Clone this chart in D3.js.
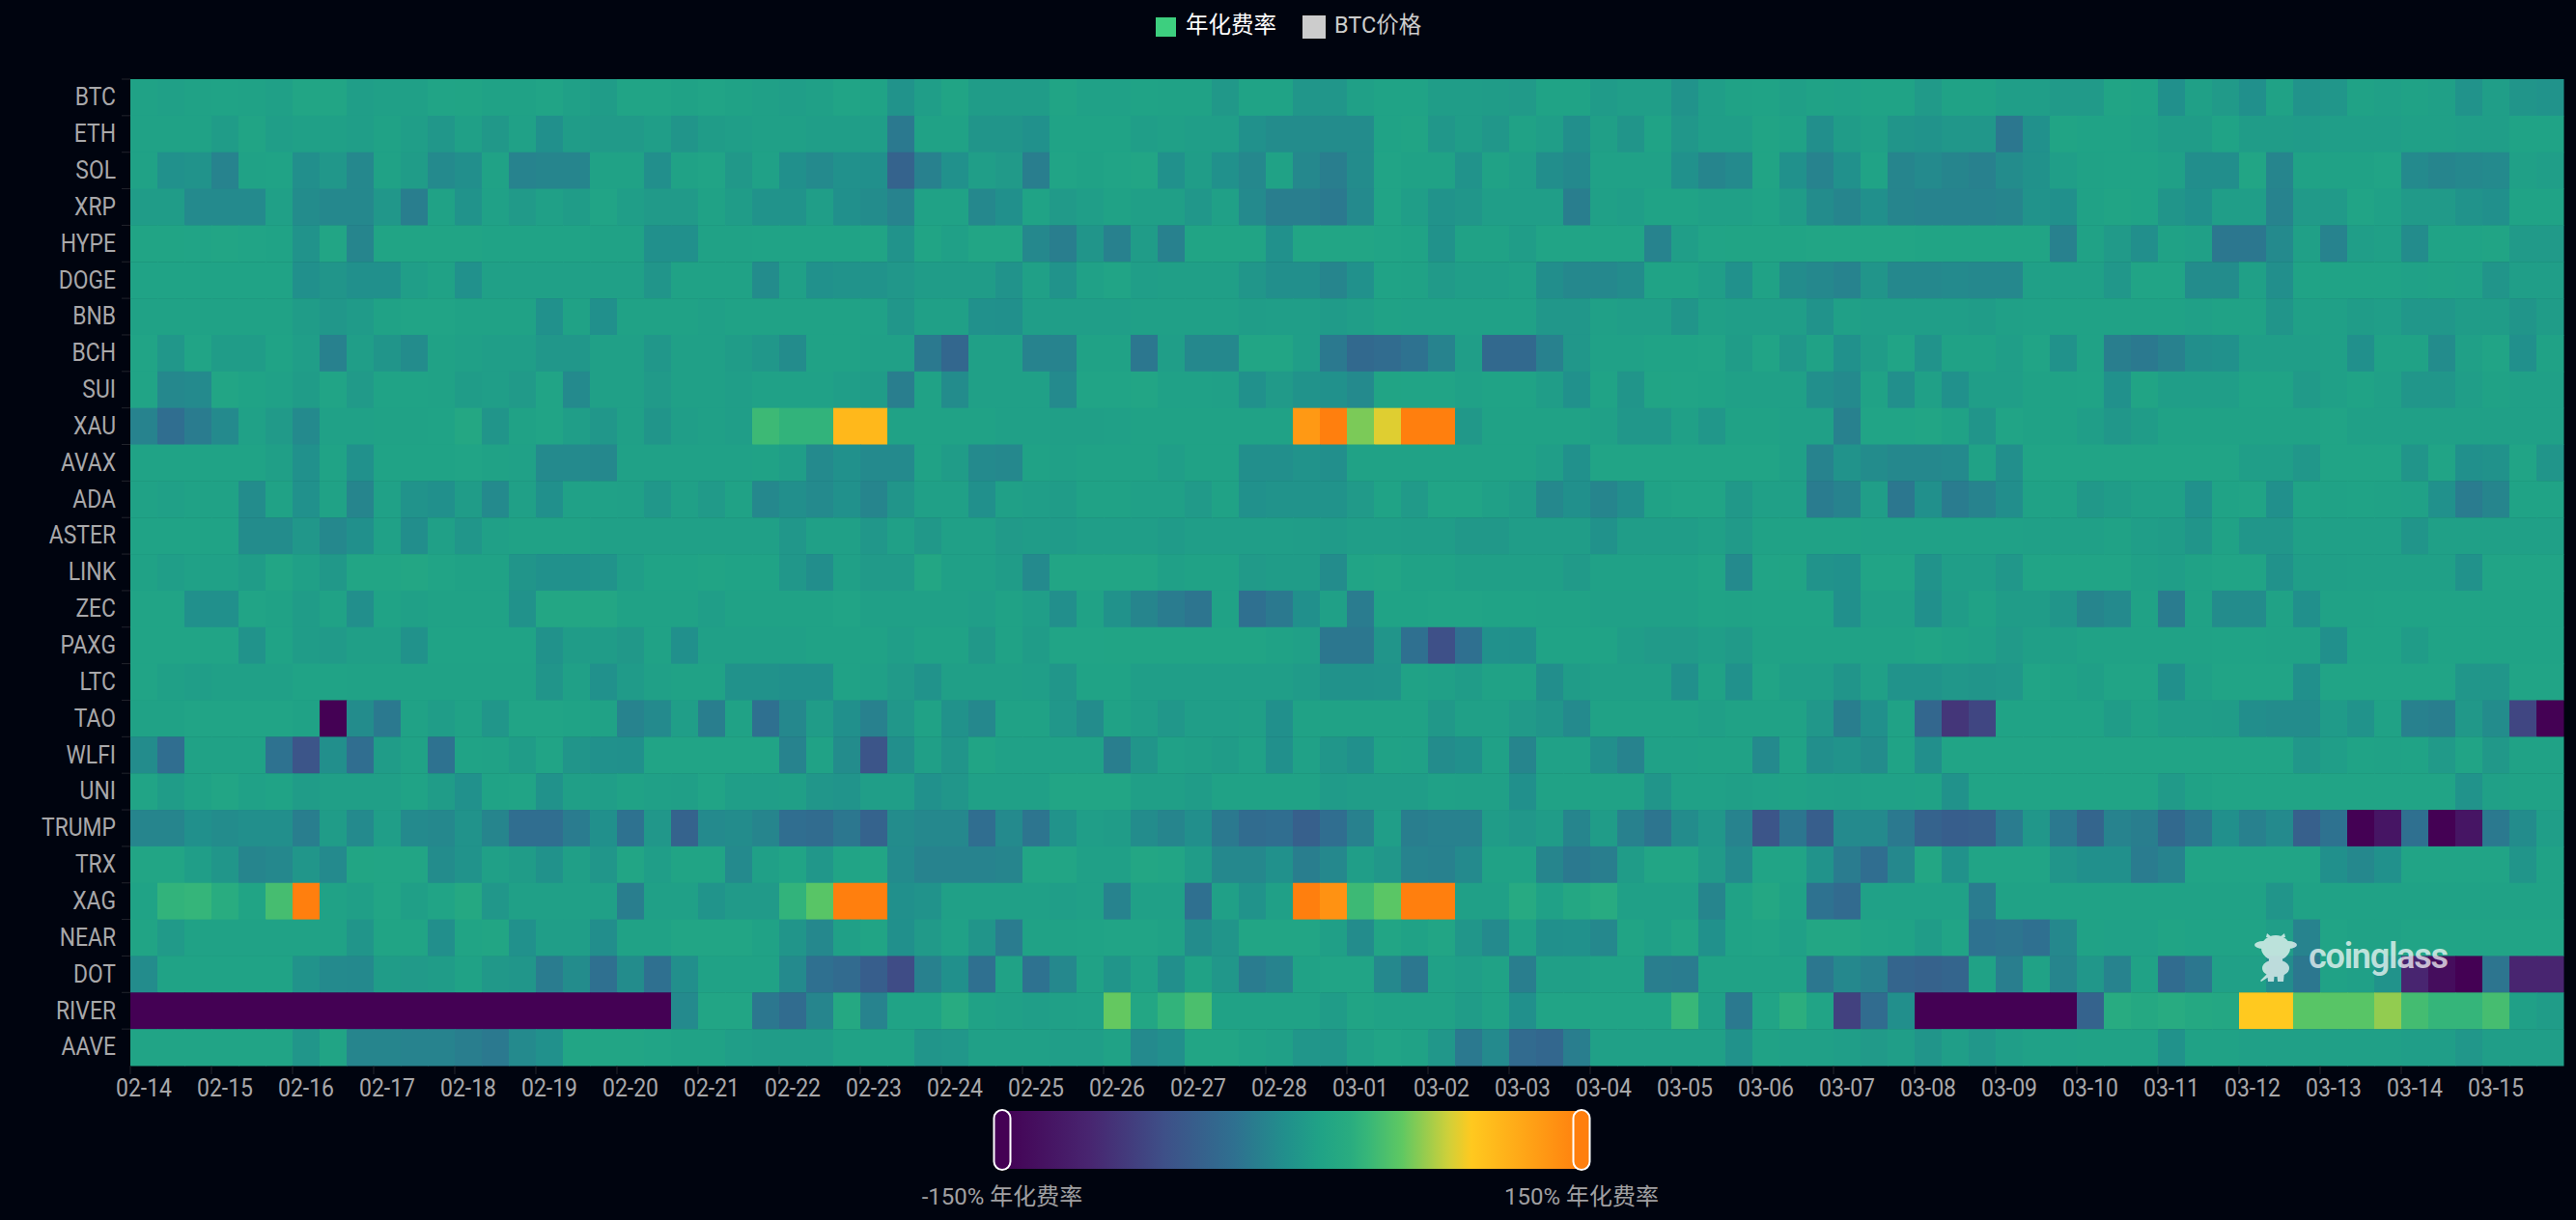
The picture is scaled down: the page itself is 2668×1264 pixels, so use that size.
<!DOCTYPE html>
<html>
<head>
<meta charset="utf-8">
<script src="https://cdn.jsdelivr.net/npm/d3@7.9.0/dist/d3.min.js"></script>
<style>
  html, body { margin: 0; background: #00040f; }
  svg { display: block; }
  text { font-family: Roboto, "Noto Sans CJK SC", sans-serif; }
</style>
</head>
<body>
<svg id="chart" width="2668" height="1264"></svg>
<script>
// annualized funding rate (%), one list per coin, 3 readings a day
const BTC = [14,12,14,15,14,12,18,18,10,12,12,16,17,14,14,16,12,8,16,16,14,16,14,12,10,12,16,15,0,10,
  17,8,8,8,17,13,13,15,14,14,5,15,15,3,3,12,15,15,9,9,8,6,15,15,7,10,10,0,10,14,
  15,11,14,13,15,15,6,14,14,10,10,6,6,17,15,-3,12,6,-3,14,0,3,14,12,14,12,0,10,2,0];
const ETH = [14,14,14,8,17,10,12,12,10,14,10,4,12,5,13,-3,8,6,6,10,2,8,10,12,12,10,10,10,-22,14,
  14,2,2,-2,15,15,15,10,12,10,10,-2,-6,-6,-6,-6,15,17,4,9,4,14,10,-4,11,2,15,4,10,10,
  17,14,-4,8,12,2,0,4,4,-24,-2,17,15,15,13,8,8,15,8,8,7,10,10,10,12,12,10,10,15,15];
const SOL = [14,-2,0,-14,14,15,-4,4,-10,14,8,-8,-4,14,-14,-12,-12,14,14,-4,14,16,5,13,-3,-8,-2,-3,-45,-16,
  -2,10,6,-18,16,14,16,18,-2,9,-2,-10,14,-10,-18,-6,16,14,14,0,14,10,-5,-9,13,13,13,-2,-12,-8,
  17,-2,-14,-2,15,-12,-8,-12,-16,-6,-1,10,14,15,15,12,-5,-5,18,-12,14,14,14,16,-8,-12,-10,-8,12,10];
const XRP = [8,8,-8,-8,-8,12,-6,-10,-10,4,-18,14,0,13,6,12,8,16,10,6,6,14,8,0,0,10,-3,-6,-14,14,
  14,-10,-3,15,6,10,14,11,11,4,12,-8,-18,-18,-22,-8,16,10,0,3,10,10,10,-18,12,10,15,15,12,12,
  15,8,-6,-12,-3,-12,-14,-14,-14,-12,0,-3,14,17,15,2,-3,10,10,-14,6,6,16,13,6,6,0,-3,15,15];
const HYPE = [17,17,16,18,16,15,0,18,-12,17,17,17,17,15,15,15,15,14,14,-3,-3,14,14,15,15,15,15,17,0,17,
  12,18,18,-10,-18,2,-16,8,-16,17,17,17,-2,18,18,18,16,15,-1,14,14,9,16,16,16,16,-14,10,16,17,
  17,17,18,18,18,18,17,17,17,17,17,-16,14,6,-4,14,12,-24,-24,-8,12,-14,10,12,-6,15,15,17,6,6];
const DOGE = [15,15,15,15,15,15,-3,2,-3,-3,10,14,-2,12,12,12,12,12,12,2,14,14,14,-6,12,-2,0,0,4,8,
  8,8,0,12,0,13,16,10,11,11,11,3,-4,-4,-12,-2,15,14,6,10,10,12,-5,-10,-10,-6,15,15,10,-2,
  14,-6,-10,-14,2,-10,-10,-8,-10,-10,12,12,12,4,16,16,-6,-6,12,-4,15,15,15,15,13,14,13,2,10,10];
const BNB = [14,14,14,14,14,14,8,4,7,14,16,16,14,14,14,-2,14,-3,14,14,14,12,14,14,14,14,14,13,3,12,
  12,-2,-3,10,10,10,10,12,12,12,12,9,10,10,7,10,14,13,13,13,13,13,4,4,12,10,10,2,12,10,
  10,10,0,12,10,10,10,10,8,12,13,14,14,14,14,14,12,14,14,2,12,12,8,10,4,4,8,8,2,8];
const BCH = [16,4,16,8,8,15,10,-16,10,2,-6,14,12,10,10,4,4,12,12,4,12,12,8,4,-6,14,14,12,12,-22,
  -40,12,12,-14,-14,14,14,-24,10,-10,-10,18,18,10,-22,-38,-35,-28,-14,10,-38,-38,-16,4,13,13,15,15,16,8,
  16,4,14,-2,8,16,0,14,14,10,16,-1,14,-18,-22,-16,-4,-2,10,10,10,12,-3,14,14,-6,12,16,-3,14];
const SUI = [16,-10,-8,18,15,13,8,16,6,15,15,14,8,10,6,16,-8,12,12,6,12,12,10,13,13,13,10,8,-18,14,
  -6,12,12,12,-8,16,16,18,13,13,12,-2,6,0,-2,-8,17,16,16,13,15,15,9,-2,15,2,17,16,15,12,
  12,12,-4,-8,14,-4,12,-2,10,10,14,14,15,-2,17,10,10,10,15,15,6,12,15,12,3,3,10,14,12,12];
const XAU = [-14,-32,-20,-8,13,6,-8,13,13,14,14,15,22,2,14,16,10,4,12,2,10,12,10,42,36,36,106,106,14,14,
  14,14,12,12,11,11,12,14,14,14,14,14,14,130,150,63,85,150,150,5,14,14,14,14,12,4,4,12,4,14,
  14,12,12,-16,16,16,18,14,2,16,14,14,10,4,8,14,14,14,14,14,14,16,12,12,12,12,12,12,12,12];
const AVAX = [15,15,15,15,15,11,-2,15,-2,15,15,15,16,14,13,-8,-8,-10,13,13,13,13,13,14,10,-8,-2,-8,-8,14,
  8,-8,-10,14,12,14,14,14,10,14,14,-4,-4,0,-4,14,14,14,14,14,14,14,10,-2,16,16,16,16,16,16,
  16,12,-14,0,-6,-10,-10,-8,14,-4,16,16,16,16,16,16,16,16,10,10,4,16,16,16,2,16,-3,-1,16,2];
const ADA = [14,12,14,14,-6,14,-2,14,-12,13,0,-3,8,-8,12,-3,13,13,12,4,12,6,14,-10,-4,-8,-2,-12,2,12,
  12,-3,12,10,8,14,14,12,12,6,14,-2,0,0,0,6,15,6,16,16,12,8,-10,-3,-12,-5,14,16,16,5,
  12,12,-20,-14,10,-24,-3,-20,-14,-5,14,14,5,8,12,12,-2,15,16,-3,15,14,15,14,13,-2,-20,-12,15,15];
const ASTER = [15,15,15,15,-6,-6,4,-10,-3,13,-5,12,3,12,14,14,14,12,12,12,12,12,12,12,4,12,12,4,12,5,
  12,12,6,8,7,10,10,10,7,10,10,10,10,9,7,10,10,9,9,5,5,9,9,9,-1,9,9,9,12,6,
  14,14,14,14,13,13,13,13,13,13,12,12,12,14,10,8,2,14,3,3,12,12,12,12,2,12,12,12,12,12];
const LINK = [14,10,13,13,8,18,12,5,18,18,20,16,14,14,2,-2,-2,0,10,15,15,17,15,15,4,-5,12,6,6,20,
  12,12,8,-8,18,18,18,18,12,14,14,6,8,8,-6,16,18,14,14,11,11,11,11,6,13,13,13,13,16,-8,
  16,17,0,-2,16,16,0,10,10,4,16,16,16,16,12,10,14,16,16,-1,10,11,12,12,12,12,-1,16,16,16];
const ZEC = [16,16,-3,-3,16,14,8,14,-4,15,12,14,14,14,-1,20,20,20,14,14,14,10,14,14,14,14,16,12,12,12,
  12,10,14,10,-4,14,-1,-12,-20,-26,14,-30,-22,-3,12,-20,15,15,16,16,15,15,14,14,12,12,12,12,15,14,
  15,15,15,-3,12,12,-3,8,14,8,8,2,-12,-8,14,-20,14,-6,-6,14,-3,14,14,15,15,15,15,15,15,15];
const PAXG = [16,16,16,16,0,15,8,6,11,11,-1,15,15,15,15,-1,8,8,5,14,-3,12,12,12,12,14,14,14,10,14,
  14,5,14,8,16,16,17,17,17,17,17,17,14,12,-24,-24,2,-30,-66,-30,-2,-3,15,15,15,9,6,6,10,6,
  14,14,14,14,14,14,17,14,12,6,11,11,14,14,14,14,14,15,15,14,14,-3,15,15,8,15,15,15,15,15];
const LTC = [16,12,10,12,12,12,15,15,14,14,14,14,14,14,14,2,12,-2,7,12,14,14,-1,-1,-3,-3,14,12,6,0,
  11,11,11,10,3,15,15,10,10,10,10,10,10,7,-1,-1,0,14,12,8,14,14,-5,8,11,11,11,-3,14,-2,
  16,10,10,2,12,0,0,4,2,4,16,14,11,16,16,-3,12,16,16,16,-3,16,16,16,16,16,3,3,16,16];
const TAO = [14,14,16,16,16,16,14,-150,-6,-22,14,9,14,3,16,16,15,14,-14,-8,10,-18,14,-30,-10,8,-3,-16,4,14,
  -1,-10,14,14,4,-6,14,10,4,10,10,11,-3,14,14,14,14,14,5,12,12,6,2,-8,14,14,14,14,11,14,
  14,14,4,-18,-3,14,-40,-90,-75,15,15,15,15,8,14,9,9,8,-5,-6,-6,7,0,14,-16,-18,5,-6,-75,-150];
const WLFI = [-6,-32,14,14,14,-28,-60,-4,-32,8,14,-28,15,14,8,16,2,-2,-3,16,16,16,16,16,-14,14,-6,-60,-4,11,
  2,17,13,13,13,13,-18,2,13,11,8,13,-3,13,3,-3,14,13,-6,-3,13,-12,13,13,-4,-14,13,13,14,14,
  -8,15,-4,0,-6,15,-4,16,16,16,16,16,16,16,16,16,16,16,16,16,4,10,15,14,15,6,16,5,14,14];
const UNI = [16,8,14,18,13,15,8,11,11,11,15,8,-2,15,16,-1,11,10,14,12,11,16,10,10,11,3,1,10,10,-2,
  3,12,12,12,18,18,18,11,11,8,14,14,14,14,7,9,9,9,13,12,12,-3,14,14,14,14,2,13,13,11,
  13,14,12,11,13,13,14,-1,16,16,16,16,16,16,16,6,14,16,16,16,16,16,16,16,16,16,0,12,14,14];
const TRUMP = [-12,-12,-3,-6,-4,-4,-18,8,-8,10,-8,-10,0,-12,-32,-32,-20,-3,-28,4,-45,-8,-6,-12,-32,-34,-24,-45,-6,-10,
  -10,-32,-8,-26,0,10,8,-6,-12,-4,-22,-34,-32,-48,-32,-16,10,-18,-16,-16,8,4,8,-12,8,-16,-26,-6,4,-14,
  -60,-25,-50,-8,-8,-22,-45,-50,-48,-20,4,-22,-42,-14,-18,-38,-24,-3,-16,-8,-48,-28,-150,-125,-30,-150,-125,-22,-6,10];
const TRX = [18,18,10,3,-12,-10,3,-8,19,18,18,-6,0,12,8,-1,11,3,18,10,17,17,-8,12,16,4,16,18,-7,-14,
  -14,-14,-12,18,18,12,12,20,18,8,-10,-10,-2,-18,-10,10,4,-14,-16,-8,14,14,-12,-22,-18,8,18,18,6,-8,
  16,16,0,-20,-32,-10,20,-1,16,16,16,2,-3,-3,-20,-14,16,16,16,16,16,-3,-10,-2,16,16,16,16,2,14];
const XAG = [15,36,38,30,17,46,150,14,11,18,11,16,24,4,12,12,12,12,-18,12,12,1,6,6,36,54,150,150,-3,0,
  12,12,12,12,10,12,-14,12,12,-30,12,0,12,150,135,42,55,150,150,12,12,26,13,22,28,12,12,12,-12,14,
  22,14,-28,-36,13,13,13,13,-20,14,14,14,14,14,14,14,14,14,14,2,14,14,14,14,14,14,14,14,14,14];
const NEAR = [17,6,14,14,14,14,14,14,2,17,17,-4,17,19,-2,10,10,-5,14,14,18,18,18,14,2,-10,12,17,-3,6,
  13,2,-20,14,14,15,16,16,14,-6,2,18,18,18,11,-6,18,14,18,3,-8,13,-3,-2,-10,17,12,18,-2,15,
  16,12,20,20,16,15,8,16,-28,-26,-30,-10,14,13,13,17,15,15,15,10,-14,16,14,14,16,16,16,16,16,16];
const DOT = [-6,15,15,15,15,15,0,-8,-9,8,6,8,14,5,3,-20,-6,-30,-6,-30,-4,14,14,14,-8,-30,-36,-50,-70,-16,
  -3,-30,14,-28,-10,14,2,13,-4,14,4,-20,-14,14,16,16,-10,-24,13,10,14,-18,11,11,14,14,-18,-20,14,14,
  14,14,-24,-10,-16,-42,-46,-42,14,-18,14,-12,4,-14,14,-34,-24,12,12,-6,-24,14,12,0,-105,-135,-150,-26,-105,-105];
const RIVER = [-150,-150,-150,-150,-150,-150,-150,-150,-150,-150,-150,-150,-150,-150,-150,-150,-150,-150,-150,-150,-8,18,18,-24,-34,-12,24,-14,15,15,
  28,14,12,10,12,13,58,20,36,48,14,14,14,14,8,17,14,14,14,8,14,-3,16,16,16,16,16,40,12,-22,
  16,32,16,-80,-34,-4,-150,-150,-150,-150,-150,-150,-45,28,24,28,24,22,93,93,54,54,54,68,45,38,38,46,12,8];
const AAVE = [16,16,16,16,16,16,3,17,-12,-12,-14,-14,-18,-22,-8,-2,18,18,18,16,14,14,10,8,8,8,14,14,14,2,
  4,12,12,12,10,10,14,-8,-4,18,18,14,12,3,2,12,16,14,4,-22,-8,-36,-40,-18,12,12,12,12,12,-1,
  14,12,12,10,6,10,2,10,4,10,13,13,14,14,14,-1,14,14,12,12,12,12,12,12,10,10,4,10,10,10];

const coins = ['BTC','ETH','SOL','XRP','HYPE','DOGE','BNB','BCH','SUI','XAU','AVAX','ADA','ASTER','LINK','ZEC','PAXG','LTC','TAO','WLFI','UNI','TRUMP','TRX','XAG','NEAR','DOT','RIVER','AAVE'];
const rates = [BTC,ETH,SOL,XRP,HYPE,DOGE,BNB,BCH,SUI,XAU,AVAX,ADA,ASTER,LINK,ZEC,PAXG,LTC,TAO,WLFI,UNI,TRUMP,TRX,XAG,NEAR,DOT,RIVER,AAVE];
const days = ['02-14','02-15','02-16','02-17','02-18','02-19','02-20','02-21','02-22','02-23','02-24','02-25','02-26','02-27','02-28','03-01','03-02','03-03','03-04','03-05','03-06','03-07','03-08','03-09','03-10','03-11','03-12','03-13','03-14','03-15'];
const hours = ['00:00','08:00','16:00'];
const rampStops = [0, .15, .28, .40, .49, .55, .60, .63, .69, .77, .81, 1];
const rampColors = ['#440154','#482570','#3e5088','#2f7090','#21908c','#20a386','#29ac80','#36b679','#5fc862','#cfd03a','#ffc91f','#ff7f0e'];

rates.forEach((r, i) => { if (r.length !== 90) throw new Error(coins[i] + ' has ' + r.length); });

const slots = days.flatMap(d => hours.map(h => d + ' ' + h));
const LEFT = 135, RIGHT = 2655, TOP = 82, BOTTOM = 1104;

const svg = d3.select('#chart');
const x = d3.scaleBand().domain(slots).range([LEFT, RIGHT]);
const y = d3.scaleBand().domain(coins).range([TOP, BOTTOM]);
const t = d3.scaleLinear().domain([-150, 150]).range([0, 1]).clamp(true);
const ramp = d3.scaleLinear().domain(rampStops).range(rampColors);

// the reference labels use a narrow face, so squeeze a bigger Roboto
function narrow(sel, size, squeeze) {
  sel.attr('font-size', size).attr('font-family', null).attr('fill', '#a8a8aa');
  sel.each(function() {
    const w = this.getComputedTextLength();
    d3.select(this).attr('textLength', w * squeeze).attr('lengthAdjust', 'spacingAndGlyphs');
  });
}

// cells
svg.append('g').selectAll('g')
  .data(rates)
  .join('g')
  .each(function(row, i) {
    d3.select(this).selectAll('rect')
      .data(row)
      .join('rect')
      .attr('x', (d, j) => x(slots[j]))
      .attr('y', y(coins[i]))
      .attr('width', x.bandwidth() + .5)
      .attr('height', y.bandwidth() + .5)
      .attr('fill', d => ramp(t(d)));
  });

// axes, ticks sit on the cell edges
const xAxis = svg.append('g')
  .attr('transform', `translate(0,${BOTTOM})`)
  .call(d3.axisBottom(x).tickValues(days.map(d => d + ' 00:00')).tickFormat(d => d.slice(0, 5)).tickSize(9).tickPadding(5));
xAxis.select('.domain').remove();
xAxis.selectAll('line').attr('x1', -x.bandwidth() / 2).attr('x2', -x.bandwidth() / 2).attr('stroke', '#22252d');
narrow(xAxis.selectAll('text').attr('x', 0), 25, .92);

const yAxis = svg.append('g')
  .attr('transform', `translate(${LEFT},0)`)
  .call(d3.axisLeft(y).tickSize(9).tickPadding(6));
yAxis.select('.domain').remove();
yAxis.selectAll('line').attr('y1', -y.bandwidth() / 2).attr('y2', -y.bandwidth() / 2).attr('stroke', '#22252d');
narrow(yAxis.selectAll('text'), 26, .88);

// top legend
const legend = svg.append('g');
legend.append('rect').attr('x', 1197).attr('y', 18).attr('width', 21).attr('height', 20).attr('fill', '#3dcf7f');
legend.append('text').attr('x', 1228).attr('y', 34).attr('font-size', 23.5).attr('fill', '#fff').text('年化费率');
legend.append('rect').attr('x', 1349).attr('y', 16).attr('width', 24).attr('height', 24).attr('fill', '#ccc');
legend.append('text').attr('x', 1382).attr('y', 34).attr('font-size', 23.5).attr('fill', '#ccc').text('BTC价格');

// visual map
const grad = svg.append('defs').append('linearGradient').attr('id', 'rampGrad');
grad.selectAll('stop')
  .data(rampStops)
  .join('stop')
  .attr('offset', d => d)
  .attr('stop-color', (d, i) => rampColors[i]);

const barX = d3.scaleLinear().domain([-150, 150]).range([1038, 1638]);
const bar = svg.append('g');
bar.append('rect')
  .attr('x', barX(-150)).attr('y', 1151)
  .attr('width', barX(150) - barX(-150)).attr('height', 60)
  .attr('fill', 'url(#rampGrad)');
[-150, 150].forEach(v => {
  bar.append('rect')
    .attr('x', barX(v) - 8.5).attr('y', 1150)
    .attr('width', 17).attr('height', 62).attr('rx', 8.5)
    .attr('fill', ramp(t(v))).attr('stroke', '#fff').attr('stroke-width', 2);
  bar.append('text')
    .attr('x', barX(v)).attr('y', 1248)
    .attr('text-anchor', 'middle')
    .attr('font-size', 24).attr('fill', '#a0a0a2')
    .text(v + '% 年化费率');
});

// watermark
const mark = svg.append('g').attr('fill', '#fff').attr('opacity', .7);
mark.append('ellipse').attr('cx', 2357).attr('cy', 982).attr('rx', 15).attr('ry', 13);
mark.append('ellipse').attr('cx', 2344).attr('cy', 979).attr('rx', 9).attr('ry', 4);
mark.append('ellipse').attr('cx', 2370).attr('cy', 979).attr('rx', 9).attr('ry', 4);
mark.append('path').attr('d', 'M2347 971l1-4l5 4zM2367 971l-1-4l-5 4z');
mark.append('ellipse').attr('cx', 2357).attr('cy', 1003).attr('rx', 14).attr('ry', 9);
mark.append('path').attr('d', 'M2350 993h14v5h-14zM2348 1006h8l-1 11h-6zM2358 1006h8l-1 11h-6zM2350 1012l-8 5l-1-1l7-7z');
mark.append('text').attr('x', 2391).attr('y', 1003).attr('font-size', 36).attr('font-weight', 600)
  .attr('font-family', '"Open Sans", sans-serif').attr('textLength', 145).text('coinglass');
</script>
</body>
</html>
